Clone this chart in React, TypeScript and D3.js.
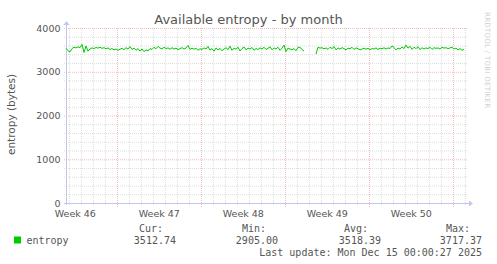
import React from "react";
import * as d3 from "d3";

const TITLE = "Available entropy - by month";
const Y_LABEL = "entropy (bytes)";
const Y_TICKS = [0, 1000, 2000, 3000, 4000];
const START_UTC = Date.UTC(2025, 10, 12, 17, 24);
const END_UTC = START_UTC + 400 * 7200 * 1000;
const STEP_MS = 4 * 3600 * 1000;

const ENTROPY: (number | null)[] = [
  3540, 3480, 3455, 3530, 3560, 3545, 3570, 3550, 3625, 3440,
  3590, 3470, 3520, 3545, 3530, 3555, 3540, 3560, 3535, 3550,
  3525, 3545, 3510, 3530, 3500, 3520, 3490, 3515, 3535, 3505,
  3550, 3520, 3575, 3510, 3540, 3490, 3530, 3470, 3520, 3460,
  3500, 3475, 3530, 3510, 3560, 3525, 3580, 3540, 3520, 3560,
  3530, 3545, 3515, 3550, 3520, 3540, 3505, 3530, 3550, 3520,
  3545, 3600, 3510, 3540, 3515, 3535, 3490, 3525, 3510, 3545,
  3520, 3580, 3495, 3530, 3470, 3545, 3500, 3535, 3480, 3520,
  3550, 3505, 3585, 3490, 3540, 3515, 3560, 3475, 3530, 3565,
  3500, 3540, 3520, 3555, 3490, 3530, 3510, 3545, 3520, 3560,
  3510, 3535, 3570, 3500, 3545, 3520, 3560, 3490, 3540, 3610,
  3460, 3540, 3520, 3505, 3530, 3480, 3560, 3555, 3510, 3470,
  null, null, null, null, null, 3405, 3560, 3540, 3550, 3525,
  3545, 3510, 3560, 3530, 3575, 3500, 3545, 3520, 3550, 3530,
  3500, 3540, 3525, 3560, 3510, 3545, 3530, 3500, 3520, 3540,
  3515, 3535, 3505, 3530, 3520, 3545, 3510, 3540, 3525, 3550,
  3520, 3545, 3530, 3590, 3555, 3500, 3540, 3520, 3565, 3530,
  3610, 3540, 3580, 3510, 3560, 3530, 3575, 3505, 3550, 3520,
  3545, 3530, 3560, 3510, 3550, 3535, 3545, 3520, 3560, 3540,
  3550, 3530, 3545, 3560, 3520, 3540, 3500, 3530, 3490, 3510,
];

const LEGEND_NAME = "entropy";
const LEGEND_HEADERS = ["Cur:", "Min:", "Avg:", "Max:"];
const LEGEND_VALUES = ["3512.74", "2905.00", "3518.39", "3717.37"];
const LAST_UPDATE = "Last update: Mon Dec 15 00:00:27 2025";
const WATERMARK = "RRDTOOL / TOBI OETIKER";

const SANS = "'DejaVu Sans', Verdana, sans-serif";
const MONO = "'DejaVu Sans Mono', monospace";

export default function App() {
  const W = 497, H = 264;
  const L = 66, R = 466, T = 28, B = 203;
  const x = d3.scaleUtc().domain([new Date(START_UTC), new Date(END_UTC)]).range([L, R]);
  const y = d3.scaleLinear().domain([0, 4000]).range([B, T]);

  const days = d3.utcDay.range(new Date(START_UTC), new Date(END_UTC));
  const mondays = d3.utcMonday.range(new Date(START_UTC), new Date(END_UTC));
  const weekStarts = d3.utcMonday.range(new Date(START_UTC - 7 * 86400000), new Date(END_UTC));
  const weekLabels = weekStarts
    .map((m) => ({ t: new Date(m.getTime() + 3.5 * 86400000), label: "Week " + d3.utcFormat("%V")(m) }))
    .filter((d) => d.t.getTime() >= START_UTC && d.t.getTime() <= END_UTC);

  const minorY = d3.range(0, 4001, 200).filter((v) => v % 1000 !== 0);

  const pts = ENTROPY.map((v, i) => ({ t: new Date(START_UTC + i * STEP_MS), v }));
  const line = d3
    .line<{ t: Date; v: number | null }>()
    .defined((d) => d.v != null)
    .x((d) => x(d.t))
    .y((d) => y(d.v as number));

  const axisColor = "#c0c6ee";
  const minorColor = "#dedede";
  const majorColor = "#eebcbc";
  const textColor = "#555";

  const headerEnds = [163, 266, 368, 470];
  const valueEnds = [176, 278, 381, 482];

  return (
    <svg width={W} height={H} style={{ position: "absolute", left: 0, top: 0, background: "#fff" }}>
      <rect x={0} y={0} width={W} height={H} fill="#fff" />
      {minorY.map((v) => (
        <line key={"hy" + v} x1={L - 2} x2={R + 2} y1={y(v) + 0.5} y2={y(v) + 0.5}
          stroke={minorColor} strokeDasharray="1,1" />
      ))}
      {days.map((d) => (
        <line key={"vx" + d.getTime()} x1={Math.round(x(d)) + 0.5} x2={Math.round(x(d)) + 0.5} y1={T} y2={B + 2}
          stroke={minorColor} strokeDasharray="1,1" />
      ))}
      {Y_TICKS.map((v) => (
        <line key={"my" + v} x1={L - 2} x2={R + 2} y1={y(v) + 0.5} y2={y(v) + 0.5}
          stroke={majorColor} strokeDasharray="1,1" />
      ))}
      {mondays.map((d) => (
        <line key={"mx" + d.getTime()} x1={Math.round(x(d)) + 0.5} x2={Math.round(x(d)) + 0.5} y1={T} y2={B + 5}
          stroke={majorColor} strokeDasharray="1,1" />
      ))}
      <line x1={L - 2} x2={R + 4} y1={B + 0.5} y2={B + 0.5} stroke={axisColor} />
      <path d={`M${R + 3},${B - 2.5} L${R + 7},${B + 0.5} L${R + 3},${B + 3.5} Z`} fill={axisColor} />
      <line x1={L + 0.5} x2={L + 0.5} y1={B + 2} y2={T - 4} stroke={axisColor} />
      <path d={`M${L - 2.5},${T - 3} L${L + 0.5},${T - 7} L${L + 3.5},${T - 3} Z`} fill={axisColor} />
      <path d={line(pts) || ""} fill="none" stroke="#00cc00" strokeWidth={1} />
      {Y_TICKS.map((v) => (
        <text key={"yl" + v} x={60.5} y={y(v) + 3.6} textAnchor="end" fontFamily={SANS} fontSize={9.5} fill={textColor}>
          {v}
        </text>
      ))}
      {weekLabels.map((d) => (
        <text key={d.label} x={x(d.t)} y={216.5} textAnchor="middle" fontFamily={SANS} fontSize={9.5} fill={textColor}>
          {d.label}
        </text>
      ))}
      <text x={248.5} y={24} textAnchor="middle" fontFamily={SANS} fontSize={13} fill={textColor}>{TITLE}</text>
      <text transform={`translate(14.5,${(T + B) / 2 - 1}) rotate(-90)`} textAnchor="middle" fontFamily={SANS}
        fontSize={10.5} fill={textColor}>{Y_LABEL}</text>
      <text transform="translate(485,12) rotate(90)" fontFamily={SANS} fontSize={7} fill="#d0d0d0"
        textLength={96} lengthAdjust="spacing">{WATERMARK}</text>
      <rect x={14} y={236.5} width={7} height={7} fill="#00cc00" />
      <text x={26.5} y={243.5} fontFamily={MONO} fontSize={10} fill={textColor}>{LEGEND_NAME}</text>
      {LEGEND_HEADERS.map((h, i) => (
        <text key={h} x={headerEnds[i]} y={231.5} textAnchor="end" fontFamily={MONO} fontSize={10} fill={textColor}>{h}</text>
      ))}
      {LEGEND_VALUES.map((v, i) => (
        <text key={"v" + i} x={valueEnds[i]} y={243.5} textAnchor="end" fontFamily={MONO} fontSize={10} fill={textColor}>{v}</text>
      ))}
      <text x={482} y={255.5} textAnchor="end" fontFamily={MONO} fontSize={10} fill={textColor}>{LAST_UPDATE}</text>
    </svg>
  );
}
